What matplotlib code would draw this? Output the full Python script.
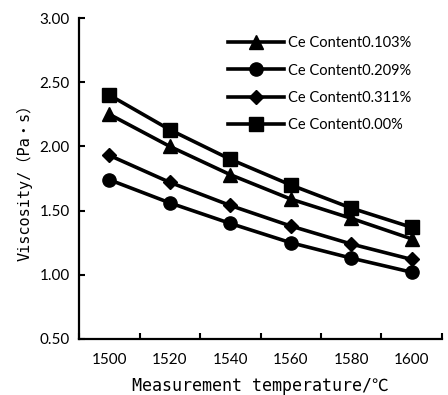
import matplotlib.pyplot as plt
import numpy as np

temps = ['1500', '1520', '1540', '1560', '1580', '1600']
ce_0103 = [2.25, 2.00, 1.78, 1.59, 1.44, 1.28]
ce_0209 = [1.74, 1.56, 1.40, 1.25, 1.13, 1.02]
ce_0311 = [1.93, 1.72, 1.54, 1.38, 1.24, 1.12]
ce_000 = [2.40, 2.13, 1.90, 1.70, 1.52, 1.37]

labels = ['Ce Content0.103%', 'Ce Content0.209%', 'Ce Content0.311%', 'Ce Content0.00%']
markers = ['^', 'o', 'D', 's']
msizes = [9.5, 9.5, 7, 10]

fig = plt.figure(figsize=(4.48, 3.95), dpi=100)
ax = fig.add_axes([0.177, 0.142, 0.809, 0.812])

x = np.arange(len(temps))
for vals, lab, m, ms in zip([ce_0103, ce_0209, ce_0311, ce_000], labels, markers, msizes):
    ax.plot(x, vals, color='black', lw=2.6, marker=m, markersize=ms, label=lab)

ax.set_xlim(-0.5, len(temps) - 0.5)
ax.set_ylim(0.5, 3.0)
yt = np.arange(0.5, 3.01, 0.5)
ax.set_yticks(yt)
ax.set_yticklabels([f'{v:.2f}' for v in yt], fontsize=11, family='Lato')
ax.set_xticks(np.arange(-0.5, len(temps), 1))
ax.set_xticklabels([])
ax.set_xticks(x, minor=True)
ax.set_xticklabels(temps, minor=True, fontsize=11, family='Lato')
ax.tick_params(axis='x', which='minor', length=0, pad=10)
ax.tick_params(axis='x', which='major', length=4, width=1.5, direction='in')
ax.tick_params(axis='y', length=4, width=1.5, direction='in', pad=7)

for s in ['top', 'right']:
    ax.spines[s].set_visible(False)
for s in ['left', 'bottom']:
    ax.spines[s].set_linewidth(1.6)

ax.set_xlabel('Measurement temperature/℃', fontsize=12,
              family=['DejaVu Sans Mono', 'Noto Sans CJK SC'], labelpad=7)
ax.set_ylabel('Viscosity/（Pa・s）', fontsize=11,
              family=['DejaVu Sans Mono', 'Noto Sans CJK SC'], labelpad=5)

leg = ax.legend(loc='upper right', bbox_to_anchor=(0.916, 0.943), frameon=False,
                borderpad=0, borderaxespad=0,
                handlelength=3.85, labelspacing=0.9, handletextpad=0.27,
                prop={'family': 'Lato', 'size': 10.5})

fig.savefig('out.png', dpi=100)
